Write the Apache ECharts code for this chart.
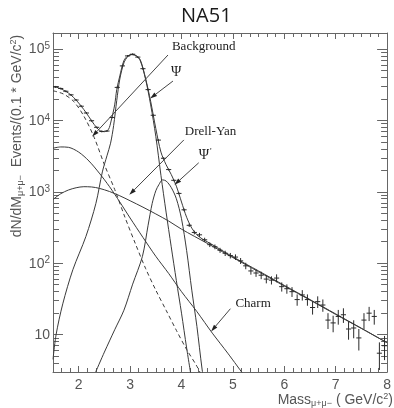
<!DOCTYPE html>
<html><head><meta charset="utf-8">
<script src="https://cdn.jsdelivr.net/npm/echarts@6/dist/echarts.min.js"></script>
<style>html,body{margin:0;padding:0;background:#fff}#c{width:394px;height:408px}</style>
</head><body><div id="c"></div>
<script>
// ---- axis ticks / labels ----
const xTickValues = [2, 3, 4, 5, 6, 7, 8];
const yTickValues = [10, 100, 1000, 10000, 100000];
const yTickLabels = ['{n|10}', '{n|10}{sup|2}', '{n|10}{sup|3}', '{n|10}{sup|4}', '{n|10}{sup|5}'];

// ---- fit curves (mass GeV/c^2, events / 0.1 GeV) ----
const totalMass = [1.5,1.6,1.7,1.8,1.9,2.0,2.1,2.2,2.3,2.4,2.5,2.58,2.63,2.7,2.74,2.8,2.88,2.96,3.04,3.12,3.2,3.3,3.4,3.5,3.6,3.7,3.8,3.9,4.0,4.1,4.2,4.3,4.4,4.6,5.0,5.5,6.0,6.5,7.0,7.5,8.0];
const totalVal  = [29700,28700,26700,24200,21000,17500,14200,11200,8800,7300,6950,7500,9800,16500,27000,42000,69000,80500,84000,80500,70000,39000,18500,7700,3600,2400,1750,1200,720,440,310,250,220,182,123,78,49,31,19.5,12.3,7.7];

const bgMass = [1.5,1.7,1.9,2.1,2.3,2.5,2.7,2.9,3.1,3.3,3.5,3.7,3.9,4.1,4.3,4.45];
const bgVal  = [26000,23500,18500,11500,5800,2400,1080,440,190,85,42,22,11.5,6.2,3.6,2.2];

const charmMass = [1.5,1.65,1.8,2.0,2.2,2.4,2.6,2.8,3.0,3.25,3.5,3.75,4.0,4.3,4.6,4.9,5.2];
const charmVal  = [4080,4250,4200,3600,2700,1830,1180,720,430,230,125,72,40,21,10.5,5.5,2.8];

const dyMass = [1.5,1.65,1.8,1.95,2.1,2.25,2.4,2.6,2.8,3.0,3.25,3.5,3.75,4.0,4.5,5.0,5.5,6.0,6.5,7.0,7.5,8.0];
const dyVal  = [780,940,1060,1140,1180,1170,1120,1010,880,750,610,490,390,300,190,120,76,48,30.5,19.2,12.2,7.7];

const psiMass = [1.5,1.56,1.69,1.886,2.14,2.335,2.46,2.55,2.62,2.68,2.74,2.8,2.88,2.96,3.04,3.12,3.2,3.3,3.4,3.5,3.6,3.7,3.8,3.9,4.0,4.1,4.2];
const psiVal  = [4.5,10,27,81,237,690,1900,3200,4800,8500,19000,38000,64000,79000,83500,80000,68000,38000,16500,6000,1700,520,170,57,20,6.5,2.3];

const psipMass = [2.33,2.5,2.7,2.88,3.05,3.24,3.35,3.43,3.5,3.56,3.63,3.7,3.8,3.9,4.0,4.1,4.2,4.3,4.4,4.46];
const psipVal  = [3.0,5.7,11.7,22,51,125,340,690,1035,1260,1470,1420,1150,800,420,150,42,13,3.3,1.8];

// ---- measured data (bin centres, counts, errors) ----
const dataMass = [1.55,1.65,1.75,1.85,1.95,2.05,2.15,2.25,2.35,2.45,2.55,2.65,2.75,2.85,2.95,3.05,3.15,3.25,3.35,3.45,3.55,3.65,3.75,3.85,3.95,4.05,4.15,4.25,4.35,4.45,4.55,4.65,4.75,4.85,4.95,5.05,5.15,5.25,5.35,5.45,5.55,5.65,5.75,5.85,5.95,6.05,6.15,6.25,6.35,6.45,6.55,6.65,6.75,6.85,6.95,7.05,7.15,7.25,7.35,7.45,7.55,7.65,7.75,7.85,7.95];
const dataCounts = [29500,28000,25600,22800,19300,15800,12700,9900,8000,7000,7100,11000,29000,58000,80000,84500,77000,53000,27000,11800,5300,2950,2050,1450,950,560,340,270,250,213,182,170,152,138,128,122,108,92,78,73,68,60,58,62,47,44,40,31,36,31,24,29,26,16,14.6,18,19,12,12.4,9,16,20,18,5.5,7];
const dataErr = [880,840,770,680,580,470,380,300,240,210,210,320,900,1800,2400,2500,2300,1600,800,350,160,90,62,44,31,24,18,16.5,16,14.6,13.5,13,12.3,11.7,11.3,11,10.4,9.6,8.8,8.5,8.2,7.7,7.6,7.9,6.9,6.6,6.3,5.6,6,5.6,4.9,5.4,5.1,4,3.8,4.2,4.4,3.5,3.5,3,4,4.5,4.2,2.3,2.6];
const binHalfWidth = 0.05;

// ---- annotations (text, arrow tip, arrow start, text anchor) in data coords ----
const annText = ['Background', '{g|Ψ}', 'Drell-Yan', '{g|Ψ}{p|\'}', 'Charm'];
const annotations = [
  {tip:[2.262,5930], start:[3.737,82400], text:[3.814,106600]},
  {tip:[3.39,20300], start:[3.834,35600], text:[3.795,47600]},
  {tip:[2.985,908],  start:[4.046,5330],  text:[4.065,6900]},
  {tip:[3.863,1253], start:[4.335,2550],  text:[4.335,3290]},
  {tip:[4.576,11.1], start:[4.952,23.1],  text:[5.049,27.2]}
];

const zip = (a, b) => a.map((v, i) => [v, b[i]]);
const xMin = 1.5, xMax = 8, yMin = 3, yMax = 167500;
const xMinor = []; for (let k = 0; k <= 39; k++) xMinor.push(+(xMin + k / 6).toFixed(4));
const yMinor = []; [1,10,100,1000,10000].forEach(d => { for (let m = 2; m <= 9; m++) { const v = m*d; if (v >= yMin && v <= yMax) yMinor.push(v); } });

const AX = '#666';
const lab = '#555';
const sansF = 'Liberation Sans';
const serifF = 'Liberation Serif';

function xAx(pos, vals, len, showLabel, showLine) {
  return {type:'value', min:xMin, max:xMax, position:pos, gridIndex:0,
    axisLine:{show:showLine, onZero:false, lineStyle:{color:AX, width:1}},
    axisTick:{show:true, inside:true, length:len, customValues:vals, lineStyle:{color:AX, width:1}},
    axisLabel:{show:showLabel, customValues:vals, margin:6, color:lab, fontSize:14, fontFamily:sansF},
    splitLine:{show:false}};
}
function yAx(pos, vals, len, showLabel, showLine) {
  return {type:'log', logBase:10, min:yMin, max:yMax, position:pos, gridIndex:0,
    axisLine:{show:showLine, onZero:false, lineStyle:{color:AX, width:1}},
    axisTick:{show:true, inside:true, length:len, customValues:vals, lineStyle:{color:AX, width:1}},
    axisLabel:{show:showLabel, customValues:vals, margin:3,
      formatter: v => { const i = yTickValues.findIndex(t => Math.abs(t - v) / t < 1e-6); return i >= 0 ? yTickLabels[i] : ''; },
      rich:{n:{fontSize:14, fontFamily:sansF, color:lab, verticalAlign:'bottom', lineHeight:15},
            sup:{fontSize:10, fontFamily:sansF, color:lab, verticalAlign:'top', lineHeight:11, padding:[0,0,8,0]}}},
    splitLine:{show:false}, minorTick:{show:false}};
}

function curve(name, xs, ys, dashed) {
  return {type:'line', name, data:zip(xs, ys), xAxisIndex:0, yAxisIndex:0, smooth:0.3,
    symbol:'none', clip:true, silent:true,
    lineStyle:{color:'#3a3a3a', width:1, type: dashed ? [4,3] : 'solid'}, z:3};
}

const dataItems = dataMass.map((m, i) => [m, dataCounts[i], dataCounts[i] - dataErr[i], dataCounts[i] + dataErr[i]]);

const chart = echarts.init(document.getElementById('c'), null, {renderer:'canvas'});
chart.setOption({
  animation:false,
  backgroundColor:'#fff',
  title:{text:'NA51', left:176, top:1, textStyle:{fontSize:20, fontWeight:'normal', fontFamily:'Open Sans', color:'#1a1a1a'}},
  grid:{left:53, right:4, top:33, bottom:36, containLabel:false},
  xAxis:[
    xAx('bottom', xTickValues, 6, true, true),
    xAx('bottom', xMinor, 4, false, false),
    xAx('top', xTickValues, 6, false, true),
    xAx('top', xMinor, 4, false, false)
  ],
  yAxis:[
    yAx('left', yTickValues, 10, true, true),
    yAx('left', yMinor, 6, false, false),
    yAx('right', yTickValues, 10, false, true),
    yAx('right', yMinor, 6, false, false)
  ],
  graphic:[
    {type:'text', x:17, y:136, rotation:Math.PI/2, silent:true,
      style:{text:'{n|dN/dM}{sub|μ+μ−}{n|  Events/(0.1 * GeV/c}{sup|2}{n|)}', align:'center', verticalAlign:'middle',
        rich:{n:{fontSize:14, fontFamily:sansF, fill:lab, verticalAlign:'middle', lineHeight:16},
              sub:{fontSize:9, fontFamily:sansF, fill:lab, verticalAlign:'bottom', lineHeight:10, padding:[9,0,0,0]},
              sup:{fontSize:9, fontFamily:sansF, fill:lab, verticalAlign:'top', lineHeight:10, padding:[0,0,9,0]}}}},
    {type:'text', x:393, y:400, silent:true,
      style:{text:'{n|Mass}{sub|μ+μ−}{n| ( GeV/c}{sup|2}{n|)}', align:'right', verticalAlign:'middle',
        rich:{n:{fontSize:14, fontFamily:sansF, fill:lab, verticalAlign:'middle', lineHeight:16},
              sub:{fontSize:9, fontFamily:sansF, fill:lab, verticalAlign:'bottom', lineHeight:10, padding:[9,0,0,0]},
              sup:{fontSize:9, fontFamily:sansF, fill:lab, verticalAlign:'top', lineHeight:10, padding:[0,0,9,0]}}}}
  ],
  series:[
    curve('Background', bgMass, bgVal, true),
    curve('Charm', charmMass, charmVal, false),
    curve('Drell-Yan', dyMass, dyVal, false),
    curve('Psi', psiMass, psiVal, false),
    curve("Psi'", psipMass, psipVal, false),
    curve('Total', totalMass, totalVal, false),
    {type:'custom', name:'data', xAxisIndex:0, yAxisIndex:0, data:dataItems, clip:true, silent:true, z:4,
      encode:{x:0, y:1},
      renderItem(params, api) {
        const x = api.value(0), y = api.value(1), lo = Math.max(api.value(2), 0.01), hi = api.value(3);
        const a = api.coord([x - binHalfWidth, y]), b = api.coord([x + binHalfWidth, y]);
        const c = api.coord([x, lo]), d = api.coord([x, hi]);
        const st = {stroke:'#2a2a2a', lineWidth:1};
        return {type:'group', children:[
          {type:'line', shape:{x1:a[0], y1:a[1], x2:b[0], y2:b[1]}, style:st},
          {type:'line', shape:{x1:c[0], y1:c[1], x2:d[0], y2:d[1]}, style:st}
        ]};
      }},
    {type:'custom', name:'annotations', xAxisIndex:0, yAxisIndex:0, clip:false, silent:true, z:5,
      data: annotations.map(a => [a.tip[0], a.tip[1], a.start[0], a.start[1], a.text[0], a.text[1]]),
      encode:{x:[0,2,4], y:[1,3,5]},
      renderItem(params, api) {
        const p = api.coord([api.value(0), api.value(1)]);
        const s = api.coord([api.value(2), api.value(3)]);
        const t = api.coord([api.value(4), api.value(5)]);
        const dx = p[0] - s[0], dy = p[1] - s[1], L = Math.hypot(dx, dy);
        const ux = dx / L, uy = dy / L, nx = -uy, ny = ux;
        const hl = 7, hw = 2.2;
        const bx = p[0] - ux * hl, by = p[1] - uy * hl;
        return {type:'group', children:[
          {type:'line', shape:{x1:s[0], y1:s[1], x2:bx, y2:by}, style:{stroke:'#444', lineWidth:1}},
          {type:'polygon', shape:{points:[[p[0], p[1]], [bx + nx*hw, by + ny*hw], [bx - nx*hw, by - ny*hw]]}, style:{fill:'#222'}},
          {type:'text', x:t[0], y:t[1], style:{text:annText[params.dataIndex], align:'left', verticalAlign:'middle',
            fontSize:13, fontFamily:serifF, fill:'#222',
            rich:{g:{fontSize:14, fontFamily:serifF, fill:'#222', verticalAlign:'bottom', lineHeight:15},
                  p:{fontSize:9, fontFamily:serifF, fill:'#222', verticalAlign:'top', lineHeight:9, padding:[0,0,7,1]}}}}
        ]};
      }}
  ]
});
</script>
</body></html>
